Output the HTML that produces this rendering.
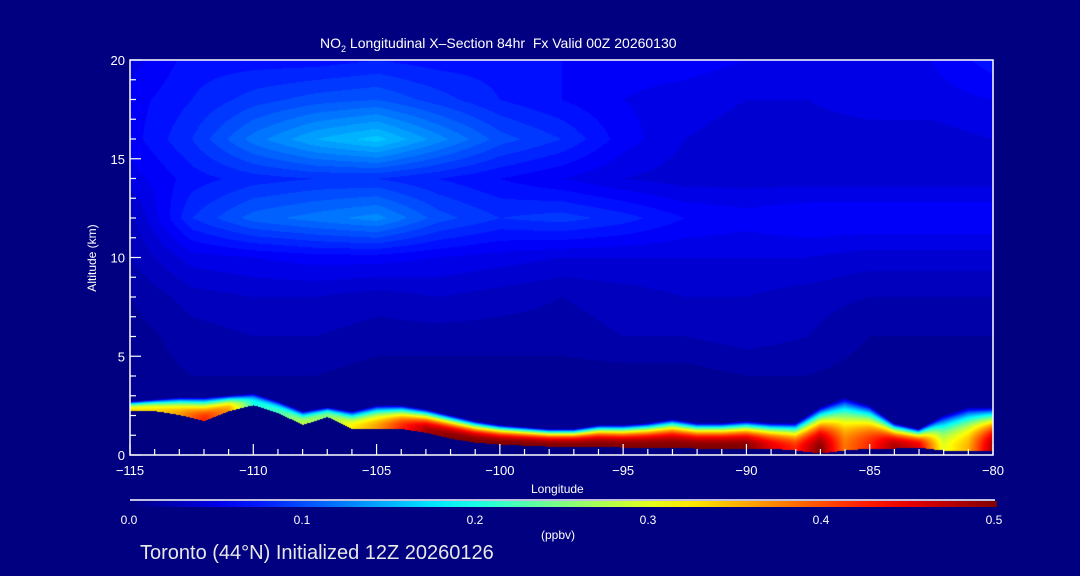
<!DOCTYPE html>
<html><head><meta charset="utf-8">
<style>
html,body{margin:0;padding:0;background:#000080;}
body{width:1080px;height:576px;position:relative;overflow:hidden;font-family:"Liberation Sans",sans-serif;color:#fff;}
.t{position:absolute;white-space:nowrap;}
</style></head>
<body>
<div class="t" style="left:320px;top:35px;font-size:14px;">NO<sub style="font-size:9px">2</sub> Longitudinal X&#8211;Section 84hr&nbsp; Fx Valid 00Z 20260130</div>
<canvas id="cv" width="863" height="395" style="position:absolute;left:130px;top:60px;"></canvas>
<svg id="ax" width="1080" height="576" style="position:absolute;left:0;top:0;"></svg>
<div class="t" style="left:531px;top:482px;font-size:12px;">Longitude</div>
<div class="t" style="left:52px;top:251px;font-size:12px;transform:rotate(-90deg);transform-origin:center;width:80px;text-align:center;">Altitude (km)</div>
<div class="t" style="left:541px;top:528px;font-size:12px;">(ppbv)</div>
<div class="t" style="left:140px;top:542px;font-size:20px;color:#e8e8e8;">Toronto (44°N) Initialized 12Z 20260126</div>
<script>
// upper field: rows = altitudes, cols = longitudes
const lons=[-115,-112.5,-110,-107.5,-105,-102.5,-100,-97.5,-95,-92.5,-90,-87.5,-85,-82.5,-80];
const alts=[20,18,16,14,12,10,8,6,4,2,0];
const upper=[
[0.05,0.07,0.07,0.07,0.075,0.07,0.07,0.065,0.06,0.06,0.055,0.05,0.05,0.055,0.07],
[0.06,0.075,0.09,0.10,0.105,0.09,0.075,0.065,0.055,0.05,0.045,0.045,0.05,0.05,0.055],
[0.06,0.085,0.12,0.145,0.16,0.13,0.10,0.085,0.06,0.045,0.04,0.04,0.04,0.04,0.045],
[0.05,0.07,0.08,0.085,0.085,0.075,0.065,0.055,0.045,0.04,0.04,0.04,0.04,0.04,0.04],
[0.03,0.085,0.11,0.12,0.13,0.10,0.085,0.09,0.08,0.065,0.06,0.065,0.065,0.065,0.065],
[0.025,0.05,0.055,0.06,0.06,0.055,0.05,0.045,0.045,0.045,0.045,0.045,0.04,0.04,0.04],
[0.015,0.03,0.035,0.035,0.03,0.035,0.03,0.025,0.03,0.035,0.035,0.03,0.025,0.025,0.025],
[0.01,0.02,0.025,0.025,0.02,0.02,0.02,0.02,0.025,0.025,0.03,0.025,0.015,0.015,0.015],
[0.01,0.015,0.015,0.015,0.01,0.01,0.01,0.01,0.01,0.01,0.015,0.015,0.01,0.01,0.01],
[0.01,0.01,0.01,0.01,0.01,0.01,0.01,0.01,0.01,0.01,0.01,0.01,0.01,0.01,0.01],
[0.01,0.01,0.01,0.01,0.01,0.01,0.01,0.01,0.01,0.01,0.01,0.01,0.01,0.01,0.01]];
// boundary layer
const blLons=[-115,-114,-113,-112,-111,-110,-109,-108,-107,-106,-105,-104,-103,-102,-101,-100,-99,-98,-97,-96,-95,-94,-93,-92,-91,-90,-89,-88,-87,-86,-85,-84,-83,-82,-81,-80];
const ground=[2.2,2.2,2.0,1.7,2.2,2.5,2.1,1.5,1.9,1.3,1.3,1.3,1.1,0.8,0.6,0.5,0.45,0.4,0.4,0.4,0.35,0.35,0.35,0.3,0.3,0.3,0.3,0.2,0.05,0.2,0.3,0.3,0.35,0.2,0.2,0.2];
const layerTop=[2.4,2.5,2.6,2.6,2.7,2.8,2.4,1.9,2.1,1.9,2.2,2.2,2.0,1.7,1.4,1.2,1.1,1.0,1.0,1.2,1.2,1.3,1.5,1.3,1.3,1.4,1.3,1.3,2.1,2.6,2.2,1.3,1.0,1.7,2.1,2.1];
const surfVal=[0.33,0.33,0.36,0.42,0.36,0.2,0.22,0.28,0.25,0.32,0.36,0.42,0.48,0.5,0.5,0.5,0.5,0.5,0.5,0.5,0.5,0.5,0.5,0.5,0.5,0.5,0.45,0.42,0.5,0.38,0.42,0.48,0.45,0.3,0.35,0.48];
const cbTicks=["0.0","0.1","0.2","0.3","0.4","0.5"];
const xTicks=[-115,-110,-105,-100,-95,-90,-85,-80];
const yTicks=[0,5,10,15,20];

const X0=130,X1=993,Y0=455,Y1=60;
const xs=l=>X0+(l+115)/35*(X1-X0);
const ys=a=>Y0-a/20*(Y0-Y1);
function jet(t){t=Math.max(0,Math.min(1,t));const c=v=>Math.round(255*Math.max(0,Math.min(1,v)));
return [c(1.5-Math.abs(4*t-3)),c(1.5-Math.abs(4*t-2)),c(1.5-Math.abs(4*t-1))];}
function interp1(arrX,arrY,x){if(x<=arrX[0])return arrY[0];for(let i=1;i<arrX.length;i++){if(x<=arrX[i]){const f=(x-arrX[i-1])/(arrX[i]-arrX[i-1]);return arrY[i-1]*(1-f)+arrY[i]*f;}}return arrY[arrY.length-1];}
function upperAt(lon,alt){
 let fi=(lon+115)/2.5;fi=Math.max(0,Math.min(lons.length-1.0001,fi));const i=Math.floor(fi),fx=fi-i;
 let fj=(20-alt)/2;fj=Math.max(0,Math.min(alts.length-1.0001,fj));const j=Math.floor(fj),fy=fj-j;
 const a=upper[j][i]*(1-fx)+upper[j][i+1]*fx,b=upper[j+1][i]*(1-fx)+upper[j+1][i+1]*fx;return a*(1-fy)+b*fy;}
const cv=document.getElementById('cv'),ctx=cv.getContext('2d');
const W=cv.width,H=cv.height,img=ctx.createImageData(W,H);
for(let px=0;px<W;px++){const lon=-115+px/(W-1)*35;
 const g=interp1(blLons,ground,lon),tp=interp1(blLons,layerTop,lon),sv=interp1(blLons,surfVal,lon);
 for(let py=0;py<H;py++){const alt=20-py/(H-1)*20;let r,gg,b;
  if(alt<g){r=0;gg=0;b=128;}else{let v=Math.round(upperAt(lon,alt)/0.01)*0.01;
   const top=tp+0.3;
   if(alt<top){const f=Math.min(1,(alt-g)/(top-g));const w=1-Math.pow(f,2.5);v=v+(sv-v)*w;}
   [r,gg,b]=jet(v/0.5);}
  const k=(py*W+px)*4;img.data[k]=r;img.data[k+1]=gg;img.data[k+2]=b;img.data[k+3]=255;}}
ctx.putImageData(img,0,0);

const NS='http://www.w3.org/2000/svg',ax=document.getElementById('ax');
function mk(tag,at){const e=document.createElementNS(NS,tag);for(const k in at)e.setAttribute(k,at[k]);ax.appendChild(e);return e;}
let fr=mk('rect',{x:X0,y:Y1,width:X1-X0,height:Y0-Y1,fill:'none',stroke:'#fff','stroke-width':1.5});


for(let l=-115;l<=-80;l++){const maj=(l%5===0);
 let t=mk('line',{x1:xs(l),x2:xs(l),y1:Y0,y2:Y0-(maj?11:6),stroke:'#fff','stroke-width':1.2});
 
 }
xTicks.forEach(l=>{let t=mk('text',{x:xs(l),y:Y0+20,fill:'#fff','font-size':13,'text-anchor':'middle','font-family':'Liberation Sans'});t.textContent=(l<0?'\u2212'+(-l):l);
 
 });
for(let a=0;a<=20;a++){const maj=(a%5===0);
 let t=mk('line',{x1:X0,x2:X0+(maj?11:6),y1:ys(a),y2:ys(a),stroke:'#fff','stroke-width':1.2});
 
 }
yTicks.forEach(a=>{let t=mk('text',{x:X0-5,y:ys(a)+5,fill:'#fff','font-size':13,'text-anchor':'end','font-family':'Liberation Sans'});t.textContent=a;
 
 });
const defs=mk('defs',{}),lg=document.createElementNS(NS,'linearGradient');lg.setAttribute('id','jg');defs.appendChild(lg);
for(let i=0;i<=20;i++){const s=document.createElementNS(NS,'stop');const c=jet(i/20);s.setAttribute('offset',(i*5)+'%');s.setAttribute('stop-color','rgb('+c+')');lg.appendChild(s);}
let cl=mk('line',{x1:130,x2:995,y1:500,y2:500,stroke:'#fff','stroke-width':1.5});


let cb=mk('rect',{x:130,y:501,width:867,height:6,fill:'url(#jg)'});


cbTicks.forEach((s,i)=>{let t=mk('text',{x:129+i*173,y:524,fill:'#fff','font-size':12,'text-anchor':'middle','font-family':'Liberation Sans'});t.textContent=s;
 
 });
</script>
</body></html>
